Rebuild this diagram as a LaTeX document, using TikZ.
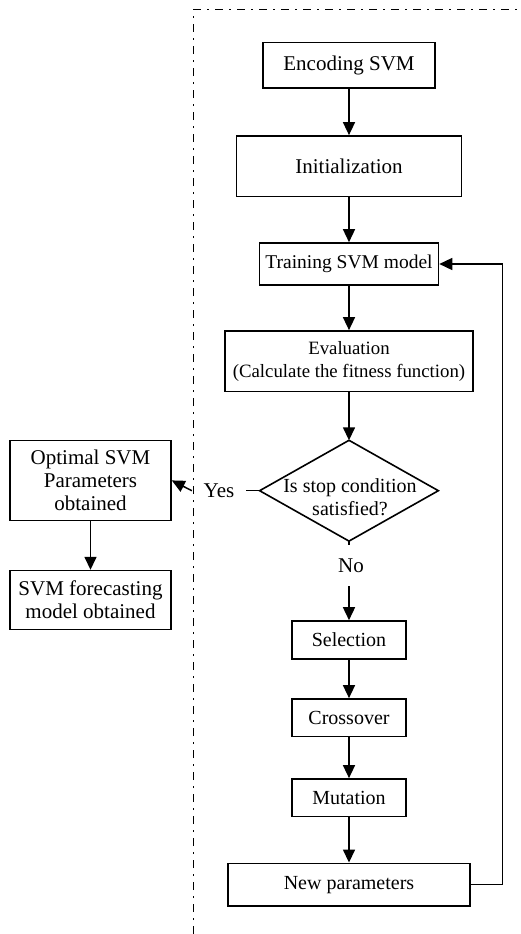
\documentclass[tikz,border=0pt]{standalone}
\usepackage{fontspec}
\setmainfont{Liberation Serif}
\usetikzlibrary{arrows.meta}
\begin{document}
\begin{tikzpicture}[x=1pt,y=-1pt,
  box/.style={draw, line width=1.6pt, inner sep=0pt, align=center,
    font=\fontsize{20}{23}\selectfont},
  big/.style={font=\fontsize{21}{23}\selectfont},
  lbl/.style={inner sep=0pt, font=\fontsize{20}{23}\selectfont},
  arr/.style={line width=1.5pt, -{Triangle[length=13pt,width=12pt]}},
  conn/.style={line width=1.5pt},
  frame/.style={line width=1.6pt, dash pattern=on 8pt off 6pt on 2pt off 6pt}]
\useasboundingbox (0,0) rectangle (520,934);
% frame
\draw[frame] (193.5,934) -- (193.5,9.5) -- (520,9.5);
% main column
\node[box, big, minimum width=172pt, minimum height=45pt] (enc) at (349,65.2) {Encoding SVM};
\node[box, big, minimum width=225pt, minimum height=60.7pt] (init) at (349,166.3) {Initialization};
\node[box, minimum width=179pt, minimum height=42pt, font=\fontsize{19.5}{23}\selectfont] (train) at (349,264) {Training SVM model};
\node[box, minimum width=247.7pt, minimum height=60.7pt, font=\fontsize{18.8}{23}\selectfont] (eval) at (349,361.3) {Evaluation\\(Calculate the fitness function)};
\node[minimum width=178.3pt, minimum height=100.4pt, inner sep=0pt] (dia) at (349,490.7) {};
\draw[line width=1.6pt, line join=miter] (dia.north) -- (dia.east) -- (dia.south) -- (dia.west) -- cycle;
\node[lbl, align=center] (diatext) at (350,497.5) {Is stop condition\\satisfied?};
\node[box, minimum width=114pt, minimum height=38pt] (sel) at (349,640) {Selection};
\node[box, minimum width=114pt, minimum height=37.7pt] (cross) at (349,717.8) {Crossover};
\node[box, minimum width=114pt, minimum height=37.7pt] (mut) at (349,797.8) {Mutation};
\node[box, minimum width=242pt, minimum height=42.7pt] (newp) at (349,884.7) {New parameters};
% left column
\node[box, big, minimum width=161pt, minimum height=79.8pt] (opt) at (90.5,480.4) {Optimal SVM\\Parameters\\obtained};
\node[box, big, minimum width=161pt, minimum height=58.8pt] (fore) at (90.5,600) {SVM forecasting\\model obtained};
% labels
\node[lbl, big, minimum width=54pt, minimum height=20pt] (yes) at (219,490.7) {Yes};
\node[lbl, big, minimum width=30pt, minimum height=41pt] (no) at (351,565.5) {No};
\coordinate (fb) at (502.7,0);
% connectors
\draw[arr] (enc) -- (init);
\draw[arr] (init) -- (train);
\draw[arr] (train) -- (eval);
\draw[arr] (eval) -- (dia.north);
\draw[conn] (dia.west) -- (yes.east);
\draw[arr] (yes.west) -- (opt.east);
\draw[arr] (opt) -- (fore);
\draw[conn] (dia.south) -- (dia.south |- no.north);
\draw[arr] (dia.south |- no.south) -- (sel.north);
\draw[arr] (sel) -- (cross);
\draw[arr] (cross) -- (mut);
\draw[arr] (mut) -- (newp);
\draw[arr] (newp.east) -| (fb |- train.east) -- (train.east);
\end{tikzpicture}
\end{document}
